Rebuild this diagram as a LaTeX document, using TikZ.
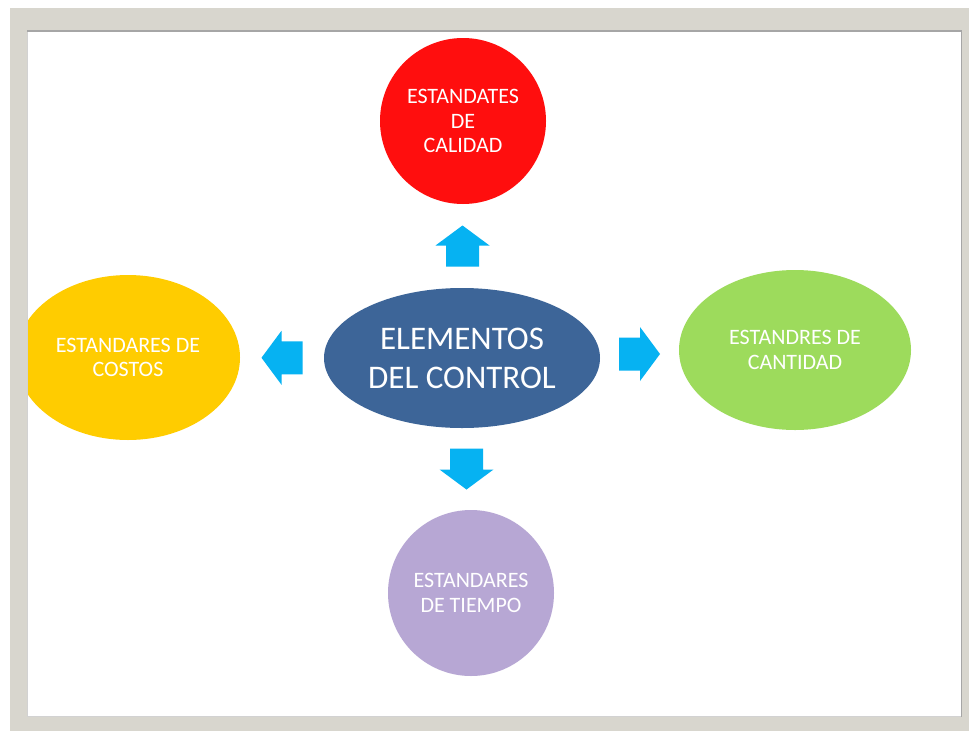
\documentclass[tikz,border=0pt]{standalone}
\usepackage{fontspec}
\setmainfont{Carlito}
\usetikzlibrary{shapes.geometric,calc}

\definecolor{marco}{HTML}{D8D6CE}
\definecolor{rojo}{HTML}{FF0E0E}
\definecolor{azul}{HTML}{3D6598}
\definecolor{amarillo}{HTML}{FFCC00}
\definecolor{verde}{HTML}{9DDB5C}
\definecolor{lila}{HTML}{B7A7D4}
\definecolor{flecha}{HTML}{06B2F2}

\tikzset{
  flechabloque/.pic={
    \fill[flecha] (-20.5,-16.5) -- (0.5,-16.5) -- (0.5,-27) -- (20.5,0)
      -- (0.5,27) -- (0.5,16.5) -- (-20.5,16.5) -- cycle;
  }
}

\begin{document}
\begin{tikzpicture}
  [x=1pt,y=-1pt,
   every node/.style={ellipse,inner sep=0pt,text=white,align=center,
     font=\fontsize{22}{24.5}\selectfont}]

  \useasboundingbox (0,0) rectangle (969,731);
  \fill[white] (0,0) rectangle (969,731);

  % Marco gris
  \fill[marco] (10,8) rectangle (969,731);
  \fill[white] (27,30) rectangle (962,717);
  \draw[gray!35,line width=1pt] (27.5,30.5) rectangle (961.5,716.5);
  \draw[gray!70,line width=1.2pt] (27,31) -- (961.4,31) -- (961.4,717);

  \begin{scope}
    \clip (28,31.6) rectangle (960.8,716);

    % Nodo central
    \node[fill=azul,minimum width=276pt,minimum height=140pt,
      font=\fontsize{33}{39}\selectfont] (centro) at (462,358)
      {ELEMENTOS\\DEL CONTROL};

    % Estandares alrededor
    \node[circle,fill=rojo,minimum size=166pt] (calidad) at (463,121)
      {ESTANDATES\\DE\\CALIDAD};
    \node[fill=amarillo,minimum width=224pt,minimum height=165pt] (costos)
      at (128,357.5) {ESTANDARES DE\\COSTOS};
    \node[fill=verde,minimum width=232pt,minimum height=160pt] (cantidad)
      at (795,350) {ESTANDRES DE\\CANTIDAD};
    \node[circle,fill=lila,minimum size=166pt] (tiempo) at (471,593)
      {ESTANDARES\\DE TIEMPO};
  \end{scope}

  % Flechas entre el centro y cada estandar
  \pic[rotate=90]  at ($(centro.north)!0.5!(calidad.south)$) {flechabloque};
  \pic[rotate=0]   at ($(centro.east)!0.5!(cantidad.west)$) {flechabloque};
  \pic[rotate=180] at ($(centro.west)!0.5!(costos.east)$) {flechabloque};
  \pic[rotate=-90] at ($(centro.south)!0.5!(tiempo.north)$) {flechabloque};

\end{tikzpicture}
\end{document}
